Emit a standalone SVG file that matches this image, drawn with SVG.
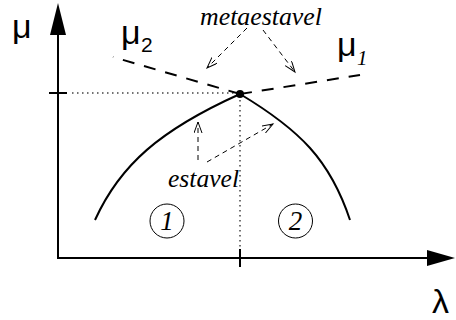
<svg xmlns="http://www.w3.org/2000/svg" width="456" height="320" viewBox="0 0 456 320">
<style>
.ax{stroke:#000;stroke-width:2;fill:none}
.curve{stroke:#000;stroke-width:2;fill:none}
.branch{stroke:#000;stroke-width:2;fill:none;stroke-dasharray:12 10}
.dot{stroke:#444;stroke-width:1.5;fill:none;stroke-dasharray:1.5 3.5}
.ptr{stroke:#000;stroke-width:1;fill:none;stroke-dasharray:5 4;marker-end:url(#open)}
.sym{font-family:"Liberation Sans",Arial,sans-serif;fill:#000}
.it{font-family:"Liberation Serif","Times New Roman",serif;font-style:italic;fill:#000}
.ring{stroke:#000;stroke-width:1;fill:none}
</style>
<defs>
<marker id="open" markerUnits="userSpaceOnUse" markerWidth="14" markerHeight="10" refX="11" refY="4" orient="auto">
<path d="M0,0 L11,4 L0,8" fill="none" stroke="#000" stroke-width="1"/>
</marker>
</defs>
<g id="axes">
<line class="ax" x1="58" y1="30" x2="58" y2="258"/>
<line class="ax" x1="57" y1="258" x2="430" y2="258"/>
<polygon points="58,3 50,35 66,35" fill="#000"/>
<polygon points="455,258 427,250 427,266" fill="#000"/>
<line class="ax" x1="49" y1="93" x2="67" y2="93"/>
<line class="ax" x1="240" y1="249" x2="240" y2="267"/>
</g>
<g id="guides">
<line class="dot" x1="72" y1="93" x2="236" y2="93"/>
<line class="dot" x1="240" y1="100" x2="240" y2="250"/>
</g>
<g id="connectors">
<path class="curve" d="M95,220 C120,165 160,130 240,94"/>
<path class="curve" d="M240,94 C300,130 330,160 350,220"/>
<line class="branch" x1="240" y1="94" x2="113" y2="57"/>
<line class="branch" x1="240" y1="94" x2="360" y2="75"/>
<line class="ptr" x1="247" y1="28" x2="207" y2="68"/>
<line class="ptr" x1="263" y1="30" x2="295" y2="72"/>
<line class="ptr" x1="198" y1="160" x2="198" y2="122"/>
<line class="ptr" x1="207" y1="162" x2="273" y2="124"/>
</g>
<g id="point">
<circle cx="240" cy="94" r="4" fill="#000"/>
</g>
<g id="labels">
<text class="sym" x="12" y="38" font-size="34">μ</text>
<text class="sym" x="121" y="44" font-size="34">μ</text>
<text class="sym" x="141" y="52" font-size="21">2</text>
<text class="sym" x="337" y="56" font-size="34">μ</text>
<text class="it" x="357" y="65" font-size="21">1</text>
<text class="sym" x="432" y="313" font-size="34">λ</text>
<text class="it" x="200" y="25" font-size="25" textLength="122" lengthAdjust="spacingAndGlyphs">metaestavel</text>
<text class="it" x="168" y="187" font-size="25" textLength="71" lengthAdjust="spacingAndGlyphs">estavel</text>
</g>
<g id="region1">
<circle class="ring" cx="167" cy="221" r="17"/>
<text class="it" x="167" y="230" font-size="27" text-anchor="middle">1</text>
</g>
<g id="region2">
<circle class="ring" cx="295.5" cy="221" r="17"/>
<text class="it" x="295.5" y="230" font-size="27" text-anchor="middle">2</text>
</g>
</svg>
